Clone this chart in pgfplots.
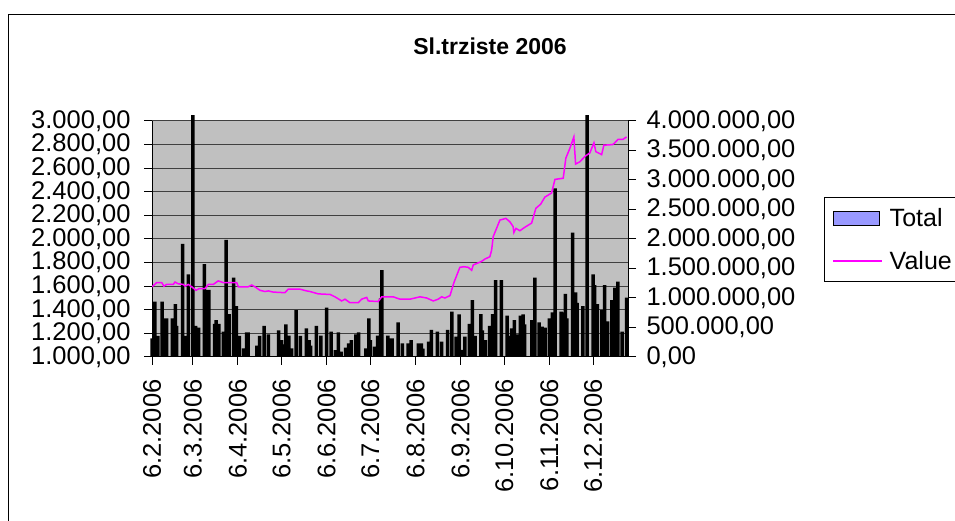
\documentclass[border=0pt]{standalone}
\usepackage{fontspec}
\setmainfont{Liberation Sans}
\usepackage{pgfplots}
\pgfplotsset{compat=1.18}
\definecolor{plotgray}{RGB}{192,192,192}
\definecolor{totalblue}{RGB}{153,153,255}
\definecolor{valuemag}{RGB}{255,0,255}
\begin{document}
\begin{tikzpicture}[x=1pt,y=1pt]
\useasboundingbox (0,0) rectangle (955,521);
% chart frame (cut off at right and bottom, as in the export)
\draw[line width=1pt] (8,-20) -- (8,506) -- (990,506);
\node[font=\bfseries\fontsize{23}{27}\selectfont] at (490,475) {Sl.trziste 2006};

% bars: Total (left axis, 1.000 -- 3.000)
\begin{axis}[
  at={(152pt,164pt)}, anchor=south west,
  scale only axis, width=476pt, height=236pt,
  xmin=0, xmax=327, ymin=0, ymax=2000,
  clip=false,
  axis x line*=bottom, axis y line*=left,
  axis line style={-, black, line width=1pt},
  axis background/.style={fill=plotgray, draw=gray, line width=1pt},
  tick align=outside, major tick length=8pt,
  tick style={black, line width=1pt},
  ymajorgrids, grid style={black!75, line width=1pt},
  tick label style={font=\fontsize{25.5}{29}\selectfont},
  ytick={0,200,400,600,800,1000,1200,1400,1600,1800,2000},
  yticklabels={{1.000,00},{1.200,00},{1.400,00},{1.600,00},{1.800,00},{2.000,00},
    {2.200,00},{2.400,00},{2.600,00},{2.800,00},{3.000,00}},
  yticklabel shift=10pt,
  xtick={0,28,59,89,120,150,181,212,242,273,303},
  xticklabels={6.2.2006,6.3.2006,6.4.2006,6.5.2006,6.6.2006,6.7.2006,
    6.8.2006,6.9.2006,6.10.2006,6.11.2006,6.12.2006},
  xticklabel style={rotate=90, anchor=east},
  xticklabel shift=11pt,
]
\addplot[ybar, bar width=3.5pt, fill=black, draw=none,
  y filter/.expression={y-1000}] coordinates {
  (0,1158) (2,1469) (4,1178) (7,1469) (9,1328) (10,1328) (14,1328) (16,1449)
  (17,1263) (21,1958) (23,1178) (25,1701) (28,3050) (30,1263) (32,1249)
  (36,1786) (37,1568) (39,1568) (43,1280) (44,1313) (46,1280) (49,1215)
  (51,1992) (53,1364) (56,1672) (58,1432) (60,1178) (63,1074) (65,1209)
  (66,1209) (72,1096) (74,1178) (77,1263) (80,1192) (87,1226) (89,1144)
  (91,1107) (92,1277) (94,1181) (96,1074) (99,1398) (102,1178) (106,1243)
  (108,1144) (109,1096) (113,1263) (116,1181) (120,1418) (123,1215)
  (126,1059) (128,1209) (130,1045) (133,1079) (135,1116) (137,1144)
  (140,1192) (142,1209) (147,1074) (149,1328) (150,1144) (153,1087)
  (155,1181) (157,1497) (158,1737) (162,1181) (163,1158) (165,1158)
  (169,1294) (172,1116) (176,1116) (178,1144) (183,1116) (185,1116)
  (186,1070) (190,1130) (192,1229) (196,1215) (199,1130) (203,1229)
  (206,1384) (209,1172) (211,1362) (213,1060) (215,1172) (218,1280)
  (220,1483) (222,1178) (226,1364) (227,1226) (229,1144) (232,1263)
  (234,1364) (236,1652) (240,1652) (244,1350) (245,1178) (247,1243)
  (249,1313) (251,1192) (253,1350) (255,1362) (256,1277) (261,1313)
  (263,1672) (266,1294) (268,1257) (270,1249) (273,1328) (275,1379)
  (277,2429) (281,1384) (282,1379) (284,1534) (285,1328) (289,2053)
  (291,1548) (292,1459) (296,1432) (299,3050) (303,1701) (304,1610)
  (306,1449) (309,1398) (311,1610) (313,1301) (316,1483) (318,1587)
  (320,1638) (323,1215) (326,1503)
};
\end{axis}

% line: Value (right axis, 0 -- 4.000.000)
\begin{axis}[
  at={(152pt,164pt)}, anchor=south west,
  scale only axis, width=476pt, height=236pt,
  xmin=0, xmax=327, ymin=0, ymax=4000000,
  axis x line=none, axis y line*=right,
  axis line style={-, black, line width=1pt},
  tick align=outside, major tick length=8pt,
  tick style={black, line width=1pt},
  tick label style={font=\fontsize{25.5}{29}\selectfont},
  ytick={0,500000,1000000,1500000,2000000,2500000,3000000,3500000,4000000},
  scaled y ticks=false,
  yticklabel style={/pgf/number format/.cd, fixed, fixed zerofill, precision=2,
    use comma, 1000 sep={.}, assume math mode=true},
  yticklabel shift=7pt,
  legend style={at={(1.4118,0.678)}, anchor=north west, draw=black,
    line width=1pt, fill=white, font=\fontsize{25}{29}\selectfont,
    row sep=19pt, column sep=5pt, inner xsep=8pt, inner ysep=9pt},
  legend cell align=left,
]
\addlegendimage{legend image code/.code={
  \draw[fill=totalblue, draw=black, line width=1.2pt] (0pt,-7pt) rectangle (46pt,7pt);}}
\addplot[valuemag, line width=1.5pt, mark=none,
  legend image code/.code={\draw[draw=valuemag, line width=1.2pt] (0pt,0pt) -- (49pt,0pt);}]
  coordinates {
  (0,1190000) (3.2,1260000) (6.7,1260000) (8.2,1200000) (10.1,1230000)
  (14.6,1230000) (15.8,1270000) (18.1,1240000) (21.5,1230000) (22.7,1200000)
  (24.9,1230000) (27.3,1190000) (30.2,1130000) (32.5,1160000) (36.4,1160000)
  (38.7,1230000) (42.1,1230000) (45.5,1290000) (49.0,1260000) (58.2,1260000)
  (59.3,1190000) (66.1,1190000) (68.5,1220000) (70.7,1190000) (74.2,1130000)
  (77.6,1110000) (79.9,1120000) (83.3,1100000) (91.3,1090000) (93.6,1150000)
  (101.6,1150000) (106.2,1120000) (108.5,1110000) (114.2,1070000)
  (122.3,1060000) (125.7,1020000) (130.3,950000) (132.6,980000) (136.0,920000)
  (141.7,920000) (144.0,980000) (147.5,1010000) (148.6,950000) (155.4,940000)
  (157.8,1020000) (165.7,1020000) (170.3,980000) (177.2,980000) (184.1,1020000)
  (188.7,1000000) (193.2,950000) (196.6,980000) (199.0,1020000) (201.2,1000000)
  (204.7,1040000) (207.4,1260000) (211.5,1520000) (214.3,1530000)
  (217.2,1520000) (219.6,1470000) (220.7,1560000) (226.4,1620000)
  (228.7,1660000) (232.1,1700000) (233.3,1810000) (234.4,2040000)
  (239.0,2320000) (243.1,2350000) (245.9,2290000) (248.1,2210000)
  (248.6,2110000) (250.0,2180000) (252.7,2140000) (256.2,2200000)
  (260.8,2270000) (263.7,2520000) (267.0,2590000) (269.9,2710000)
  (274.5,2780000) (276.8,3010000) (282.5,3030000) (284.3,3370000)
  (287.1,3540000) (289.8,3730000) (291.0,3270000) (294.0,3310000)
  (297.4,3400000) (300.8,3460000) (303.6,3630000) (304.9,3480000)
  (308.9,3430000) (310.4,3590000) (316.4,3600000) (317.5,3620000)
  (320.2,3690000) (323.6,3690000) (326.0,3730000)
};
\legend{Total,Value}
\end{axis}
\end{tikzpicture}
\end{document}
